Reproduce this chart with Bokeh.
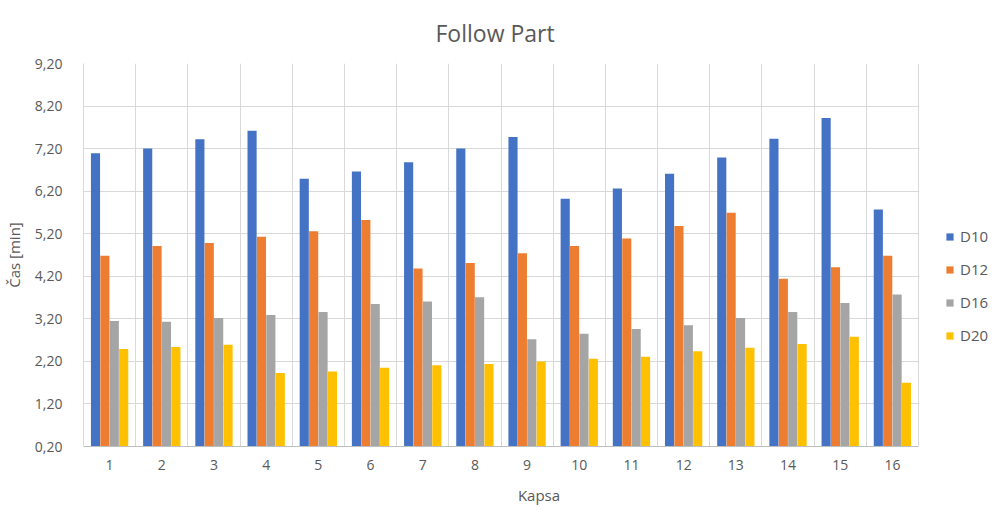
from bokeh.plotting import figure
from bokeh.models import ColumnDataSource, FixedTicker, Legend, LegendItem, Range1d, BoxAnnotation
from bokeh.transform import dodge
from bokeh.embed import file_html
from bokeh.resources import INLINE

kapsa = list(range(1, 17))
d10 = [7.09, 7.20, 7.42, 7.62, 6.49, 6.66, 6.88, 7.20, 7.47, 6.02, 6.26, 6.61, 6.99, 7.43, 7.92, 5.77]
d12 = [4.68, 4.91, 4.98, 5.13, 5.26, 5.52, 4.38, 4.51, 4.74, 4.91, 5.09, 5.38, 5.69, 4.14, 4.41, 4.68]
d16 = [3.15, 3.13, 3.22, 3.29, 3.36, 3.55, 3.61, 3.71, 2.72, 2.85, 2.96, 3.05, 3.22, 3.36, 3.57, 3.77]
d20 = [2.49, 2.54, 2.59, 1.93, 1.96, 2.05, 2.11, 2.14, 2.20, 2.26, 2.31, 2.44, 2.52, 2.61, 2.78, 1.70]
series_names = ["D10", "D12", "D16", "D20"]
y_ticks = [0.2, 1.2, 2.2, 3.2, 4.2, 5.2, 6.2, 7.2, 8.2, 9.2]
y_tick_labels = ["0,20", "1,20", "2,20", "3,20", "4,20", "5,20", "6,20", "7,20", "8,20", "9,20"]

colors = ["#4472C4", "#ED7D31", "#A5A5A5", "#FFC000"]
offsets = [-0.27, -0.09, 0.09, 0.27]
FONT = "Open Sans"
TXT = "#595959"

W, H = 994, 507
LEFT, TOP, BOTTOM = 83, 63, 60
PLOT_RIGHT = 918  # right edge of the plotted area in pixels
x_start = min(kapsa) - 0.5
x_last = max(kapsa) + 0.5
x_end = x_start + (x_last - x_start) * (W - LEFT) / (PLOT_RIGHT - LEFT)

src = ColumnDataSource(dict(kapsa=kapsa, D10=d10, D12=d12, D16=d16, D20=d20))

p = figure(width=W, height=H, output_backend="svg", toolbar_location=None,
           x_range=Range1d(x_start, x_end), y_range=Range1d(0.2, 9.2),
           min_border_left=LEFT, min_border_right=0, min_border_top=TOP, min_border_bottom=BOTTOM,
           title="Follow Part")
p.outline_line_color = None
p.title.align = "left"
p.title.vertical_align = "top"
p.title.text_font = FONT
p.title.text_font_size = "23px"
p.title.text_font_style = "normal"
p.title.text_color = TXT
p.title.offset = 352
p.title.standoff = 26

p.xaxis.ticker = FixedTicker(ticks=kapsa)
p.xgrid.ticker = FixedTicker(ticks=[k + 0.5 for k in range(0, 17)])
p.yaxis.ticker = FixedTicker(ticks=y_ticks)
p.yaxis.major_label_overrides = {t: l for t, l in zip(y_ticks, y_tick_labels)}
p.ygrid.ticker = FixedTicker(ticks=y_ticks)
for g in (p.xgrid, p.ygrid):
    g.grid_line_color = "#D9D9D9"
    g.grid_line_width = 1

# white mask over the area right of the plot region (covers gridlines there)
mask = BoxAnnotation(left=x_last + 0.015, fill_color="white", fill_alpha=1.0,
                     line_color=None, level="underlay")
p.add_layout(mask)

renderers = []
for name, c, off in zip(series_names, colors, offsets):
    r = p.vbar(x=dodge("kapsa", off), top=name, bottom=0, width=0.175, source=src,
               fill_color=c, line_color=None)
    renderers.append(r)

for ax in (p.xaxis, p.yaxis):
    ax.major_tick_line_color = None
    ax.minor_tick_line_color = None
    ax.major_label_text_font = FONT
    ax.major_label_text_font_size = "14px"
    ax.major_label_text_color = TXT
    ax.axis_label_text_font = FONT
    ax.axis_label_text_font_size = "15px"
    ax.axis_label_text_font_style = "normal"
    ax.axis_label_text_color = TXT
p.xaxis.axis_line_color = "#BFBFBF"
p.xaxis.bounds = (x_start, x_last)
p.yaxis.axis_line_color = "#D9D9D9"
p.xaxis.axis_label = "Kapsa"
p.yaxis.axis_label = "Čas [min]"
p.xaxis.major_label_standoff = 7
p.yaxis.major_label_standoff = 15
p.xaxis.axis_label_standoff = 12
p.yaxis.axis_label_standoff = 8

legend = Legend(items=[LegendItem(label=n, renderers=[r]) for n, r in zip(series_names, renderers)],
                location=(862, 101), orientation="vertical")
legend.border_line_color = None
legend.background_fill_alpha = 0
legend.padding = 0
legend.margin = 0
legend.spacing = 13
legend.glyph_height = 9
legend.glyph_width = 9
legend.label_height = 20
legend.label_standoff = 6
legend.label_text_font = FONT
legend.label_text_font_size = "15px"
legend.label_text_color = TXT
p.add_layout(legend)

open("out.html", "w").write(file_html(p, INLINE))
